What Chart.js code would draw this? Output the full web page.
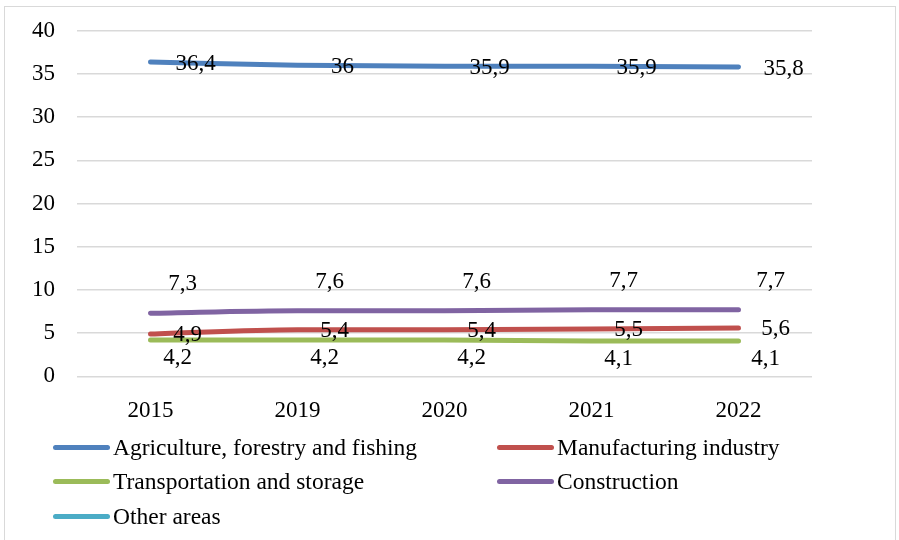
<!DOCTYPE html>
<html>
<head>
<meta charset="utf-8">
<script src="https://cdn.jsdelivr.net/npm/chart.js@4"></script>
<style>
  html, body { margin: 0; padding: 0; background: #fff; }
  #wrap { position: relative; width: 899px; height: 540px; overflow: hidden; font-family: "Liberation Serif", "Times New Roman", serif; }
  #frame { position: absolute; left: 4px; top: 6px; width: 892px; height: 540px; border: 1px solid #d9d9d9; box-sizing: border-box; }
  #c { position: absolute; left: 0; top: -5px; }
  #legend { position: absolute; left: 0; top: 0; width: 899px; height: 540px; pointer-events: none; }
  .item { position: absolute; display: flex; align-items: center; font-size: 23.5px; line-height: 26px; height: 26px; color: #000; white-space: nowrap; }
  .swatch { width: 57px; height: 5px; border-radius: 3px; margin-right: 3px; }
</style>
</head>
<body>
<div id="wrap">
  <div id="frame"></div>
  <canvas id="c" width="899" height="430"></canvas>
  <div id="legend"></div>
</div>
<script>
const categories = ["2015", "2019", "2020", "2021", "2022"];
const seriesNames = [
  "Agriculture, forestry and fishing",
  "Manufacturing industry",
  "Transportation and storage",
  "Construction",
  "Other areas"
];
const agriculture = [36.4, 36, 35.9, 35.9, 35.8];
const manufacturing = [4.9, 5.4, 5.4, 5.5, 5.6];
const transportation = [4.2, 4.2, 4.2, 4.1, 4.1];
const construction = [7.3, 7.6, 7.6, 7.7, 7.7];
const otherAreas = [null, null, null, null, null];
const yTicks = [0, 5, 10, 15, 20, 25, 30, 35, 40];

const colors = ["#4F81BD", "#C0504D", "#9BBB59", "#8064A2", "#4BACC6"];
const values = [agriculture, manufacturing, transportation, construction, otherAreas];
const labelOffsets = [[45, 2], [37, 1], [27, 18], [32, -29], [0, 0]];

const datasets = values.map((v, i) => ({
  label: seriesNames[i],
  data: v,
  borderColor: colors[i],
  backgroundColor: colors[i],
  borderWidth: 5,
  borderCapStyle: 'round',
  borderJoinStyle: 'round',
  pointRadius: 0,
  pointHoverRadius: 0,
  cubicInterpolationMode: 'monotone',
  labelDx: labelOffsets[i][0],
  labelDy: labelOffsets[i][1]
}));

const FONT = '"Liberation Serif", "Times New Roman", serif';

const valueLabels = {
  id: 'valueLabels',
  afterDatasetsDraw(chart) {
    const ctx = chart.ctx;
    ctx.save();
    ctx.font = '23px ' + FONT;
    ctx.fillStyle = '#000';
    ctx.textAlign = 'center';
    ctx.textBaseline = 'middle';
    chart.data.datasets.forEach((ds, i) => {
      const meta = chart.getDatasetMeta(i);
      meta.data.forEach((pt, j) => {
        const v = ds.data[j];
        if (v === null || v === undefined) return;
        const txt = String(v).replace('.', ',');
        ctx.fillText(txt, pt.x + ds.labelDx, pt.y + ds.labelDy);
      });
    });
    ctx.restore();
  }
};

new Chart(document.getElementById('c'), {
  type: 'line',
  data: { labels: categories, datasets: datasets },
  options: {
    responsive: false,
    animation: false,
    layout: { padding: { left: 0, right: 87, top: 28, bottom: 0 } },
    plugins: { legend: { display: false }, tooltip: { enabled: false } },
    scales: {
      x: {
        offset: true,
        grid: { display: false },
        border: { display: false },
        ticks: { color: '#000', font: { family: FONT, size: 23 }, padding: 13, maxRotation: 0 },
        afterFit(axis) { axis.height = 48.6; }
      },
      y: {
        min: 0, max: 40,
        afterBuildTicks(axis) { axis.ticks = yTicks.map(v => ({ value: v })); },
        grid: { color: '#d9d9d9', lineWidth: 1.5, drawTicks: false },
        border: { display: false },
        ticks: { color: '#000', font: { family: FONT, size: 23 }, padding: 22 },
        afterFit(axis) { axis.width = 77; }
      }
    }
  },
  plugins: [valueLabels]
});

const legendPos = [[53, 447], [497, 447], [53, 481], [497, 481], [53, 516]];
const legendEl = document.getElementById('legend');
seriesNames.forEach((name, i) => {
  const d = document.createElement('div');
  d.className = 'item';
  d.style.left = legendPos[i][0] + 'px';
  d.style.top = (legendPos[i][1] - 13) + 'px';
  const s = document.createElement('span');
  s.className = 'swatch';
  s.style.background = colors[i];
  const t = document.createElement('span');
  t.textContent = name;
  d.appendChild(s);
  d.appendChild(t);
  legendEl.appendChild(d);
});
</script>
</body>
</html>
